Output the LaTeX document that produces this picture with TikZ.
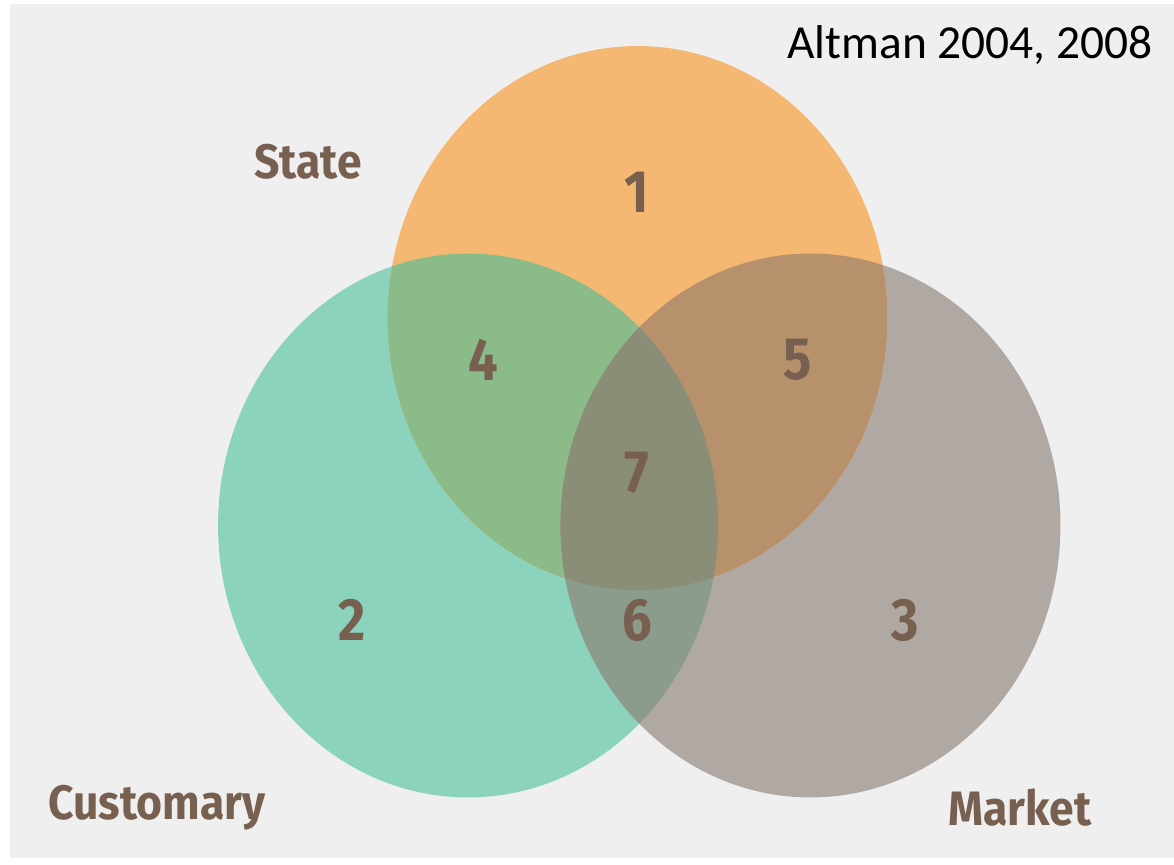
\documentclass[tikz,border=0pt]{standalone}
\usepackage{fontspec}
\setmainfont{Carlito}
\newfontfamily\vennfont{Fira Sans}

\definecolor{paper}{HTML}{EFEFEF}
\definecolor{stateclr}{HTML}{F4B872}
\definecolor{custclr}{HTML}{8CD3BE}
\definecolor{marketclr}{HTML}{B0A8A2}
\definecolor{stcust}{HTML}{8CBB8A}
\definecolor{stmarket}{HTML}{B6916B}
\definecolor{custmarket}{HTML}{8B9B8C}
\definecolor{allthree}{HTML}{8A8E77}
\definecolor{inkbrown}{HTML}{77604F}

\tikzset{
  setname/.style={text=inkbrown, xscale=0.92, font=\vennfont\bfseries\fontsize{27.5}{30}\selectfont},
  region/.style={text=inkbrown, xscale=0.88, font=\vennfont\bfseries\fontsize{34}{36}\selectfont},
}

\def\stateset{(637.5,318) ellipse [x radius=5cm, y radius=5.44cm]}
\def\custset{(468,525.5) ellipse [x radius=5cm, y radius=5.44cm]}
\def\marketset{(810.5,525.5) ellipse [x radius=5cm, y radius=5.44cm]}

\begin{document}
\begin{tikzpicture}[x=0.02cm, y=-0.02cm]
    \useasboundingbox (0,0) rectangle (1174,865);
    \fill[white] (0,0) rectangle (1174,865);
    \fill[paper] (10,4) rectangle (1174,858);

    % the three sets
    \fill[custclr] \custset;
    \fill[marketclr] \marketset;
    \fill[stateclr] \stateset;

    % overlaps
    \begin{scope}
        \clip \stateset;
        \fill[stcust] \custset;
        \fill[stmarket] \marketset;
    \end{scope}
    \begin{scope}
        \clip \custset;
        \fill[custmarket] \marketset;
        \clip \marketset;
        \fill[allthree] \stateset;
    \end{scope}

    % region numbers
    \path (637,192) node [region] (r1) {1};
    \path (352,620) node [region] (r2) {2};
    \path (905,620) node [region] (r3) {3};
    \path (483,360) node [region] (r4) {4};
    \path (798,360) node [region] (r5) {5};
    \path (637,620) node [region] (r6) {6};
    \path (637,473) node [region] (r7) {7};

    % set names
    \path (308,162) node [setname] (state) {State};
    \path (157,808) node [setname] (customary) {Customary};
    \path (1020,808) node [setname] (market) {Market};

    \path (970,45) node [font=\fontsize{27}{30}\selectfont] (cite) {Altman 2004, 2008};
\end{tikzpicture}
\end{document}
